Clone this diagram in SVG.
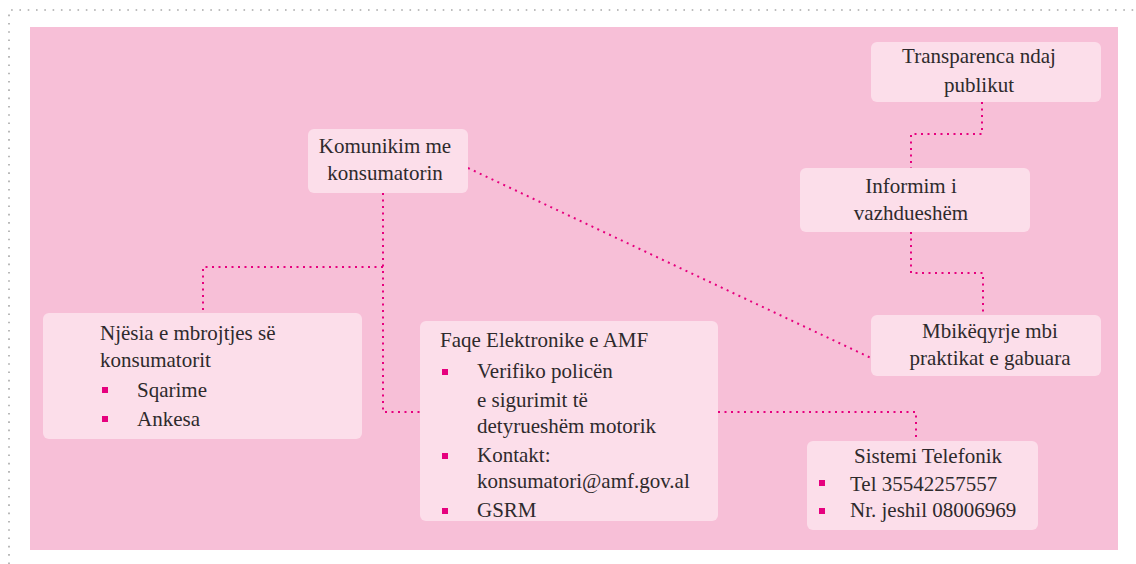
<svg xmlns="http://www.w3.org/2000/svg" width="1136" height="564" viewBox="0 0 1136 564">
<style>
.node{fill:#fcdeea;}
.t{font-family:"Liberation Serif","Times New Roman",serif;font-size:21px;fill:#2e2a2c;}
.m{text-anchor:middle;}
.b{fill:#e6007e;}
.c{fill:none;stroke:#e6007e;stroke-width:2;stroke-dasharray:2 4.5;}
.frame{fill:none;stroke:#a8a8a8;stroke-width:1.6;stroke-dasharray:1.6 6.7;}
</style>
<rect width="1136" height="564" fill="#ffffff"/>
<path class="frame" d="M9,564 L9,10 L1136,10"/>
<rect x="30" y="27" width="1088" height="523" fill="#f7bfd7"/>
<g id="connectors">
<polyline class="c" points="383,193 383,412 420,412"/>
<polyline class="c" points="383,267 203,267 203,313"/>
<line class="c" x1="468" y1="168" x2="871" y2="358"/>
<polyline class="c" points="718,412 916,412 916,441"/>
<polyline class="c" points="982,102 982,134 911,134 911,168"/>
<polyline class="c" points="911,232 911,273 983,273 983,315"/>
</g>
<g id="komunikim">
<rect class="node" x="308" y="129" width="160" height="64" rx="6"/>
<text class="t m" x="385" y="153">Komunikim me</text>
<text class="t m" x="385" y="180">konsumatorin</text>
</g>
<g id="njesia">
<rect class="node" x="43" y="313" width="319" height="126" rx="6"/>
<text class="t" x="100" y="340">Njësia e mbrojtjes së</text>
<text class="t" x="100" y="367">konsumatorit</text>
<rect class="b" x="102" y="387" width="6" height="6"/>
<text class="t" x="137" y="397">Sqarime</text>
<rect class="b" x="102" y="416" width="6" height="6"/>
<text class="t" x="137" y="426">Ankesa</text>
</g>
<g id="faqe">
<rect class="node" x="420" y="321" width="298" height="200" rx="6"/>
<text class="t" x="440" y="347">Faqe Elektronike e AMF</text>
<rect class="b" x="442" y="369" width="6" height="6"/>
<text class="t" x="477" y="378">Verifiko policën</text>
<text class="t" x="477" y="407">e sigurimit të</text>
<text class="t" x="477" y="433">detyrueshëm motorik</text>
<rect class="b" x="442" y="453" width="6" height="6"/>
<text class="t" x="477" y="462">Kontakt:</text>
<text class="t" x="477" y="488">konsumatori@amf.gov.al</text>
<rect class="b" x="442" y="508" width="6" height="6"/>
<text class="t" x="477" y="517">GSRM</text>
</g>
<g id="transparenca">
<rect class="node" x="871" y="42" width="230" height="60" rx="6"/>
<text class="t m" x="979" y="63">Transparenca ndaj</text>
<text class="t m" x="979" y="92">publikut</text>
</g>
<g id="informim">
<rect class="node" x="800" y="168" width="230" height="64" rx="6"/>
<text class="t m" x="911" y="193">Informim i</text>
<text class="t m" x="911" y="220">vazhdueshëm</text>
</g>
<g id="mbikeqyrje">
<rect class="node" x="871" y="315" width="230" height="61" rx="6"/>
<text class="t m" x="990" y="338">Mbikëqyrje mbi</text>
<text class="t m" x="990" y="365">praktikat e gabuara</text>
</g>
<g id="sistemi">
<rect class="node" x="807" y="441" width="231" height="89" rx="6"/>
<text class="t m" x="928" y="463">Sistemi Telefonik</text>
<rect class="b" x="819" y="480" width="6" height="6"/>
<text class="t" x="850" y="491">Tel 35542257557</text>
<rect class="b" x="819" y="508" width="6" height="6"/>
<text class="t" x="850" y="517">Nr. jeshil 08006969</text>
</g>
</svg>
